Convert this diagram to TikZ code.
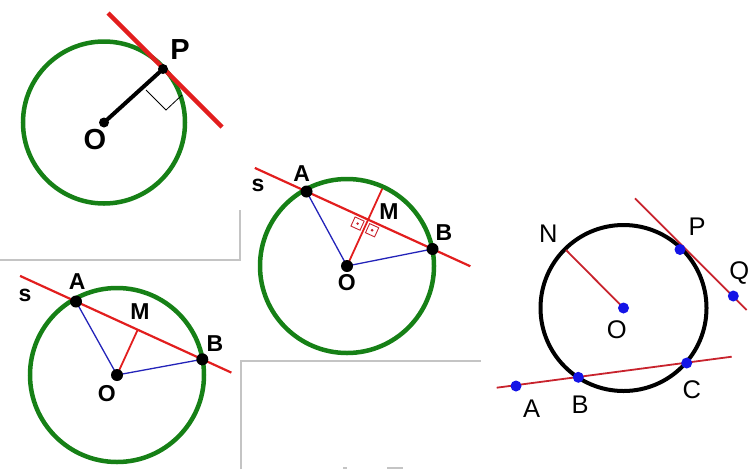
\documentclass[tikz,border=0pt]{standalone}
\usepackage{fontspec}
\setmainfont{Liberation Sans}
\usetikzlibrary{calc}
\definecolor{ggreen}{RGB}{22,128,22}
\definecolor{rred}{RGB}{226,30,30}
\definecolor{dred}{RGB}{200,35,45}
\definecolor{bblue}{RGB}{35,35,185}
\definecolor{dblue}{RGB}{20,20,230}
\definecolor{framegray}{RGB}{196,196,196}
\begin{document}
\begin{tikzpicture}[x=1pt,y=-1pt,
  frameline/.style={draw=framegray,line width=1.6pt},
  gcircle/.style={draw=ggreen,line width=4.5pt},
  kdot/.style={circle,fill=black,inner sep=0pt,minimum size=#1},
  kdot/.default=12pt,
  bdot/.style={circle,fill=dblue,inner sep=0pt,minimum size=11pt},
  lbig/.style={font=\bfseries\fontsize{29}{29}\selectfont,inner sep=0pt},
  lmid/.style={font=\bfseries\fontsize{23}{23}\selectfont,inner sep=0pt},
  lreg/.style={font=\fontsize{25.5}{25.5}\selectfont,inner sep=0pt},
  secant/.style={draw=rred,line width=2.2pt},
  radseg/.style={draw=bblue,line width=1.3pt},
  perpseg/.style={draw=rred,line width=1.8pt},
  rmark/.style={draw=dred,line width=0.9pt},
  thinred/.style={draw=dred,line width=1.8pt},
]
\useasboundingbox (0,0) rectangle (751,469);

% frame remnants
\draw[frameline] (0,260) -- (240,260) -- (240,210);
\draw[frameline] (241,469) -- (241,361) -- (481,361);
\draw[frameline] (343,468) -- (347,468);
\draw[frameline] (387,468) -- (403,468);

% ---------- panel 1 ----------
\coordinate (O1) at (104,122.5);
\draw[gcircle] (O1) circle[radius=81];
\coordinate (P1) at (163,69);
\coordinate (t1a) at (108,13);
\coordinate (t1b) at (222,127);
\draw[draw=rred,line width=4.5pt] (t1a) -- (t1b);
\coordinate (ra1) at (146,90);
\coordinate (ra2) at (166,110);
\coordinate (ra3) at (182,95);
\draw[line width=0.8pt] (ra1) -- (ra2) -- (ra3);
\draw[line width=4pt] (O1) -- (P1);
\node[kdot=10pt] (o1) at (O1) {};
\node[kdot=10pt] (p1) at (P1) {};
\node[lbig] (lp1) at (180,50) {P};
\node[lbig] (lo1) at (95,140) {O};

% ---------- panel 2 ----------
\coordinate (O2) at (347,266);
\draw[gcircle] (O2) circle[radius=87];
\coordinate (A2) at (306.5,191.5);
\coordinate (B2) at (432.5,249);
\coordinate (s2a) at ($(A2)!-0.41!(B2)$);
\coordinate (s2b) at ($(A2)!1.3!(B2)$);
\coordinate (M2) at ($(A2)!(O2)!(B2)$);
\coordinate (E2) at ($(O2)!85pt!(M2)$);
\draw[radseg] (O2) -- (A2);
\draw[radseg] (O2) -- (B2);
\draw[secant] (s2a) -- (s2b);
\draw[perpseg] (O2) -- (E2);
\coordinate (ua) at ($(M2)!1pt!(A2)-(M2)$);
\coordinate (ub) at ($(M2)!1pt!(B2)-(M2)$);
\coordinate (uo) at ($(M2)!1pt!(O2)-(M2)$);
\draw[rmark] ($(M2)+3*(ua)+3*(uo)$) -- ($(M2)+13*(ua)+3*(uo)$) -- ($(M2)+13*(ua)+13*(uo)$) -- ($(M2)+3*(ua)+13*(uo)$) -- cycle;
\fill[dred] ($(M2)+8*(ua)+8*(uo)$) circle[radius=1.4];
\draw[rmark] ($(M2)+3*(ub)+3*(uo)$) -- ($(M2)+13*(ub)+3*(uo)$) -- ($(M2)+13*(ub)+13*(uo)$) -- ($(M2)+3*(ub)+13*(uo)$) -- cycle;
\fill[dred] ($(M2)+8*(ub)+8*(uo)$) circle[radius=1.4];
\node[kdot] (a2) at (A2) {};
\node[kdot] (b2) at (B2) {};
\node[kdot] (o2) at (O2) {};
\node[lmid] (la2) at (301.7,173.3) {A};
\node[lmid] (ls2) at (258,185) {s};
\node[lmid] (lm2) at (389,211.7) {M};
\node[lmid] (lb2) at (444,233) {B};
\node[lmid] (lo2) at (346.7,283) {O};

% ---------- panel 3 ----------
\coordinate (O3) at (117,375);
\draw[gcircle] (O3) circle[radius=87];
\coordinate (A3) at (76,301.5);
\coordinate (B3) at (202.3,359.3);
\coordinate (s3a) at ($(A3)!-0.443!(B3)$);
\coordinate (s3b) at ($(A3)!1.23!(B3)$);
\coordinate (M3) at ($(A3)!(O3)!(B3)$);
\draw[radseg] (O3) -- (A3);
\draw[radseg] (O3) -- (B3);
\draw[secant] (s3a) -- (s3b);
\draw[perpseg] (O3) -- (M3);
\node[kdot] (a3) at (A3) {};
\node[kdot] (b3) at (B3) {};
\node[kdot] (o3) at (O3) {};
\node[lmid] (la3) at (77.3,281.7) {A};
\node[lmid] (ls3) at (25,295) {s};
\node[lmid] (lm3) at (140,311.7) {M};
\node[lmid] (lb3) at (215,343.3) {B};
\node[lmid] (lo3) at (106.7,393.3) {O};

% ---------- panel 4 ----------
\coordinate (O4) at (623.5,308);
\draw[line width=4pt] (O4) circle[radius=83];
\coordinate (N4) at (566,250);
\coordinate (t4a) at (635,198.3);
\coordinate (t4b) at (746.7,310);
\coordinate (P4) at (680,249.5);
\coordinate (Q4) at (733.3,296);
\coordinate (k4a) at (496.7,387.7);
\coordinate (k4b) at (731.7,356.7);
\coordinate (A4) at (516,386);
\coordinate (B4) at (578.3,377.3);
\coordinate (C4) at (686.7,363);
\draw[thinred] (N4) -- (O4);
\draw[thinred] (t4a) -- (t4b);
\draw[thinred] (k4a) -- (k4b);
\node[bdot] (o4) at (O4) {};
\node[bdot] (p4) at (P4) {};
\node[bdot] (q4) at (Q4) {};
\node[bdot] (a4) at (A4) {};
\node[bdot] (b4) at (B4) {};
\node[bdot] (c4) at (C4) {};
\node[lreg] (ln4) at (548.3,233.3) {N};
\node[lreg] (lp4) at (697,226.7) {P};
\node[lreg] (lq4) at (739.3,273.3) {Q};
\node[lreg] (lo4) at (616.7,330) {O};
\node[lreg] (la4) at (531.7,408.3) {A};
\node[lreg] (lb4) at (580,405) {B};
\node[lreg] (lc4) at (691.7,390) {C};
\end{tikzpicture}
\end{document}
